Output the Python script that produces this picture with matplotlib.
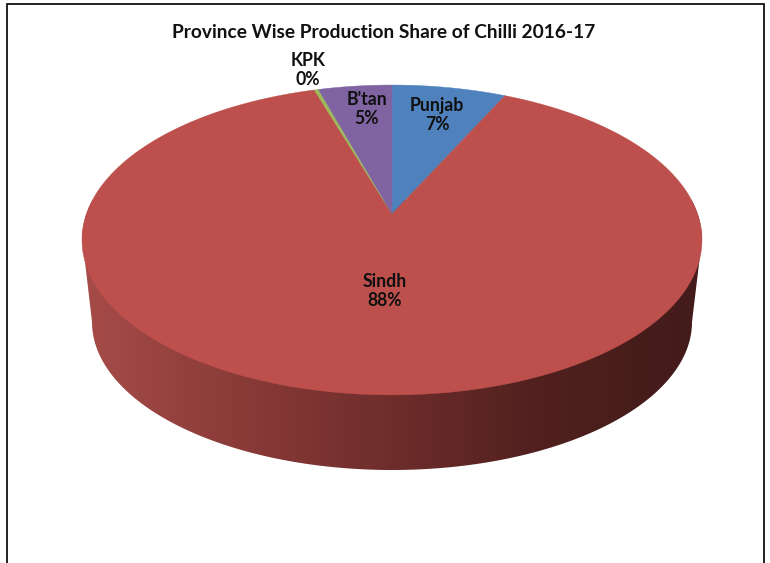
import numpy as np
import matplotlib
matplotlib.use('Agg')
import matplotlib.pyplot as plt
from matplotlib.colors import LinearSegmentedColormap
from matplotlib.patches import Polygon

provinces = ['Punjab', 'Sindh', 'KPK', "B'tan"]
shares = [7.0, 88.24, 0.25, 4.51]
title = 'Province Wise Production Share of Chilli 2016-17'

colors = ['#4f81bd', '#bd4f4c', '#9bbb59', '#8064a2']
label_pos = [(437, 115), (385, 291), (308, 70), (367, 109)]

plt.rcParams['font.family'] = ['Lato', 'DejaVu Sans']

# pie geometry in image pixels
CX, CY = 392, 214
K = 0.1677     # perspective strength
A, B = 150.6, 305.6


def project(theta):
    # theta runs clockwise from 12 o'clock
    u, v = np.sin(theta), np.cos(theta)
    d = 1 + K * v
    return CX + B * u / d, CY - A * v / d


fig = plt.figure(figsize=(7.7, 5.63), dpi=100)
ax = fig.add_axes([0, 0, 1, 1])
ax.set_xlim(0, 770)
ax.set_ylim(563, 0)
ax.axis('off')

# side wall, gradient clipped to the outline of the extruded disc
t = np.linspace(0, 2 * np.pi, 400)
top_x, top_y = project(t)
left = np.argmin(top_x)
right = np.argmax(top_x)
s = np.linspace(np.pi, 0, 200)
low_x = 392 + 300 * np.cos(s)
low_y = 322 + 148 * np.sin(s)
back_x, back_y = project(np.r_[t[right::-1], t[-1:left:-1]])
wall = Polygon(np.c_[np.r_[low_x, back_x], np.r_[low_y, back_y]],
               closed=True, fc='none', ec='none')
ax.add_patch(wall)
wall_cmap = LinearSegmentedColormap.from_list(
    'wall', ['#a64c49', '#8a3b38', '#6e2d2b', '#4f201e', '#421b1a'])
grad = ax.imshow(np.linspace(0, 1, 256)[None, :], cmap=wall_cmap, aspect='auto',
                 extent=(82, 702, 480, 200), zorder=1)
ax.set_xlim(0, 770)
ax.set_ylim(563, 0)
grad.set_clip_path(wall)

# top face
edges = np.cumsum([0] + shares) / sum(shares) * 2 * np.pi
for i, c in enumerate(colors):
    th = np.linspace(edges[i], edges[i + 1], 300)
    x, y = project(th)
    ax.add_patch(Polygon(np.c_[np.r_[CX, x], np.r_[CY, y]], closed=True,
                         fc=c, ec=c, lw=0.3, zorder=2))

for name, val, (lx, ly) in zip(provinces, shares, label_pos):
    ax.text(lx, ly, f'{name}\n{val:.0f}%', ha='center', va='center', fontsize=12.7,
            fontweight='bold', color='#101010', linespacing=1.2, zorder=3)

ax.text(384, 32, title, ha='center', va='center', fontsize=13.75,
        fontweight='bold', color='#111111')

# page frame, open at the bottom
ax.plot([6.5, 6.5, 764, 764], [563, 4, 4, 563], color='#111111', lw=1.3,
        solid_joinstyle='miter', zorder=4)

fig.savefig('out.png', dpi=100)
